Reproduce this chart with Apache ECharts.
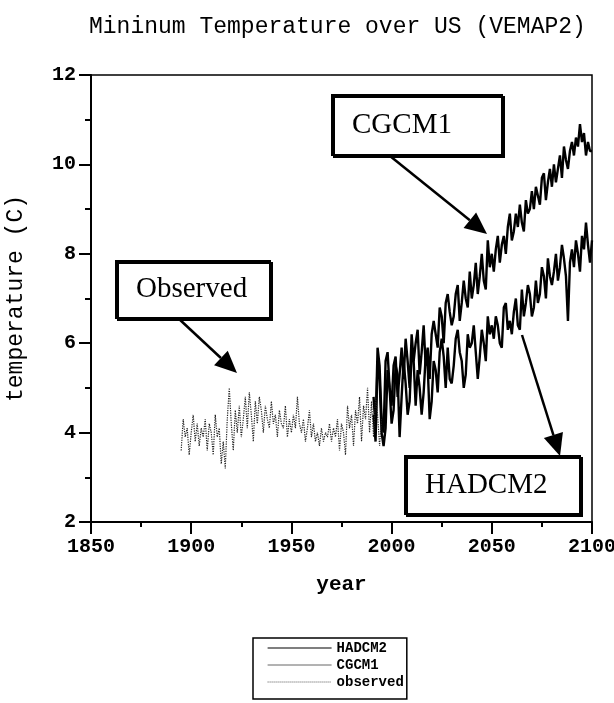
<!DOCTYPE html>
<html><head><meta charset="utf-8">
<script src="https://cdn.jsdelivr.net/npm/echarts@6/dist/echarts.min.js"></script>
<style>html,body{margin:0;padding:0;background:#fff}#c{width:614px;height:703px}</style>
</head><body><div id="c"></div>
<script>
const titleText = 'Mininum Temperature over US (VEMAP2)';
const xName = 'year';
const yName = 'temperature (C)';
const seriesNames = ['HADCM2', 'CGCM1', 'observed'];

const obsStartYear = 1895;
const observed = [
  3.6, 4.3, 3.9, 4.1, 3.5, 4.0, 4.4, 3.8, 4.2, 3.7,
  4.1, 3.9, 4.3, 3.6, 4.2, 4.0, 3.5, 4.4, 3.9, 4.1,
  3.3, 3.8, 3.2, 4.3, 5.0, 4.2, 3.6, 4.5, 4.0, 4.6,
  3.9, 4.3, 4.8, 4.1, 4.9, 4.4, 3.8, 4.7, 4.2, 4.8,
  4.5, 4.0, 4.6, 4.3, 4.1, 4.7, 4.2, 4.4, 3.9, 4.5,
  4.2, 4.1, 4.6, 3.9, 4.3, 4.0, 4.4, 4.1, 4.8, 4.2,
  4.0, 4.3, 3.8, 4.1, 4.5, 3.9, 4.2, 3.8, 4.0, 3.7,
  4.1, 3.8, 4.0, 3.9, 4.2, 3.8, 4.1, 3.9, 4.3, 3.6,
  4.2, 4.0, 3.5, 4.6, 4.1, 4.4, 3.7, 4.5, 4.2, 4.8,
  3.8, 4.6, 4.3, 5.0, 4.0, 4.7, 3.9, 4.8, 4.4, 3.7,
  4.3
];

const modelStartYear = 1991;
const hadcm2 = [
  4.4, 3.8, 5.6, 5.2, 4.0, 3.7, 4.1, 5.4, 5.0, 4.2,
  4.5, 5.5, 5.3, 3.9, 4.8, 5.6, 5.1, 4.4, 4.7, 5.8,
  5.6, 4.6, 5.4, 5.0, 4.4, 4.9, 5.7, 5.5, 4.3, 4.7,
  5.6, 5.4, 4.9, 5.8, 6.1, 5.7, 5.0, 5.9, 5.2, 5.1,
  5.5, 6.1, 6.3, 5.8, 5.6, 5.0, 5.3, 6.2, 5.9, 6.0,
  6.4, 5.8, 5.2, 5.7, 6.3, 6.0, 5.6, 6.6, 6.2, 6.4,
  6.1, 6.6, 6.4, 6.0, 5.9, 6.8, 6.9, 6.3, 6.5, 6.2,
  6.7, 7.0, 6.4, 6.3, 7.2, 6.6, 6.9, 7.3, 7.1, 6.6,
  6.8, 7.4, 6.9, 7.1, 7.7, 7.5, 7.0, 7.9, 7.5, 7.3,
  7.6, 8.0, 7.4, 7.7, 8.2, 7.9, 7.5, 6.5, 7.8, 8.1,
  7.7, 8.3, 8.0, 7.6, 8.4, 8.1, 8.7, 8.2, 7.8, 8.3
];
const cgcm1 = [
  4.8, 4.1, 5.9, 5.5, 4.3, 4.0, 5.6, 5.8, 5.0, 4.6,
  5.5, 5.7, 4.8, 5.3, 5.9, 5.2, 6.1, 5.6, 5.0, 6.2,
  5.6, 6.0, 6.3, 5.3, 5.8, 6.4, 5.5, 5.9, 5.2, 6.2,
  6.5, 6.2, 5.9, 6.8, 6.6, 6.0, 6.9, 7.1, 6.7, 6.4,
  6.6, 7.1, 7.3, 6.5, 6.9, 7.4, 7.0, 6.8, 7.6, 7.0,
  7.3, 7.8, 7.1, 7.5, 8.0, 7.4, 7.2, 8.3, 7.7, 8.0,
  7.6, 8.1, 8.4, 7.8, 8.2, 8.4, 8.0, 8.6, 8.9, 8.3,
  8.5, 8.9, 8.6, 9.1, 8.7, 8.5, 9.2, 8.9, 9.0, 9.4,
  9.0, 9.5, 9.3, 9.1, 9.7, 9.8, 9.2, 9.6, 9.9, 9.5,
  10.0, 9.6, 9.9, 10.2, 9.7, 10.4, 10.1, 9.9, 10.3, 10.5,
  10.2, 10.6, 10.4, 10.9, 10.5, 10.7, 10.2, 10.5, 10.3, 10.3
];

const annotations = [
  { label: 'CGCM1', box: [332, 95, 170, 60], arrow: [390, 156, 487, 234] },
  { label: 'Observed', box: [116, 261, 154, 57], arrow: [178, 318, 237, 373] },
  { label: 'HADCM2', box: [405, 456, 175, 58], arrow: [522, 335, 560, 456] }
];

function toPairs(start, arr) { return arr.map((v, i) => [start + i, v]); }

function arrowEls(x1, y1, x2, y2) {
  const L = 22, W = 10;
  const dx = x2 - x1, dy = y2 - y1, len = Math.hypot(dx, dy);
  const ux = dx / len, uy = dy / len;
  const bx = x2 - ux * L, by = y2 - uy * L;
  return [
    { type: 'line', z: 100, shape: { x1, y1, x2: bx, y2: by }, style: { stroke: '#000', lineWidth: 2.5 } },
    { type: 'polygon', z: 100, shape: { points: [[x2, y2], [bx - uy * W, by + ux * W], [bx + uy * W, by - ux * W]] }, style: { fill: '#000' } }
  ];
}

const graphics = [];
annotations.forEach(a => {
  const [x, y, w, h] = a.box;
  graphics.push({ type: 'rect', z: 100, shape: { x, y, width: w, height: h },
    style: { fill: '#fff', stroke: '#000', lineWidth: 2, shadowColor: '#000', shadowOffsetX: 2, shadowOffsetY: 2, shadowBlur: 0 } });
  graphics.push({ type: 'text', z: 101, x: x + 20, y: y + h / 2,
    style: { text: a.label, font: '29px "Liberation Serif"', fill: '#000', verticalAlign: 'middle', textVerticalAlign: 'middle', align: 'left', textAlign: 'left' } });
  graphics.push(...arrowEls(...a.arrow));
});

const chart = echarts.init(document.getElementById('c'), null, { renderer: 'canvas' });
const mono = '"Liberation Mono", "DejaVu Sans Mono", monospace';
chart.setOption({
  backgroundColor: '#fff',
  animation: false,
  title: {
    text: titleText, left: 84, top: 10,
    textStyle: { fontFamily: mono, fontSize: 23, fontWeight: 'normal', color: '#000' }
  },
  grid: { left: 91, right: 22, top: 75, bottom: 181, show: true, borderColor: '#000', borderWidth: 1.5,
    containLabel: false, outerBoundsMode: 'none' },
  xAxis: {
    type: 'value', min: 1850, max: 2100, interval: 50,
    name: xName, nameLocation: 'middle', nameGap: 52,
    nameTextStyle: { fontFamily: mono, fontSize: 21, fontWeight: 'bold', color: '#000' },
    axisLine: { lineStyle: { color: '#000', width: 2 } },
    axisTick: { length: 12, lineStyle: { color: '#000', width: 2 } },
    minorTick: { show: true, splitNumber: 2, length: 5, lineStyle: { color: '#000', width: 2 } },
    splitLine: { show: false },
    axisLabel: { margin: 15, fontFamily: mono, fontSize: 20, fontWeight: 'bold', color: '#000', formatter: v => String(v) }
  },
  yAxis: {
    type: 'value', min: 2, max: 12, interval: 2,
    name: yName, nameLocation: 'middle', nameGap: 64,
    nameTextStyle: { fontFamily: mono, fontSize: 23, color: '#000' },
    axisLine: { lineStyle: { color: '#000', width: 2 } },
    axisTick: { length: 12, lineStyle: { color: '#000', width: 2 } },
    minorTick: { show: true, splitNumber: 2, length: 6, lineStyle: { color: '#000', width: 2 } },
    splitLine: { show: false },
    axisLabel: { margin: 15, fontFamily: mono, fontSize: 20, fontWeight: 'bold', color: '#000', formatter: v => String(v) }
  },
  legend: {
    orient: 'vertical', left: 253, top: 638,
    padding: [3, 3, 10, 14], itemGap: 3, itemWidth: 64, itemHeight: 14,
    borderColor: '#000', borderWidth: 1.5,
    itemStyle: { opacity: 0 },
    textStyle: { fontFamily: mono, fontSize: 14, fontWeight: 'bold', color: '#000' },
    data: [
      { name: seriesNames[0], lineStyle: { color: '#000', width: 1.2, type: 'solid' } },
      { name: seriesNames[1], lineStyle: { color: '#666', width: 1, type: 'solid' } },
      { name: seriesNames[2], lineStyle: { color: '#555', width: 1, type: 'dotted' } }
    ]
  },
  series: [
    { name: seriesNames[0], type: 'line', symbol: 'none', data: toPairs(modelStartYear, hadcm2),
      lineStyle: { color: '#000', width: 2.4 }, itemStyle: { color: '#000' } },
    { name: seriesNames[1], type: 'line', symbol: 'none', data: toPairs(modelStartYear, cgcm1),
      lineStyle: { color: '#000', width: 2.4 }, itemStyle: { color: '#000' } },
    { name: seriesNames[2], type: 'line', symbol: 'none', data: toPairs(obsStartYear, observed),
      lineStyle: { color: '#222', width: 1.2, type: 'dotted' }, itemStyle: { color: '#222' } }
  ],
  graphic: { elements: graphics }
});
</script></body></html>
